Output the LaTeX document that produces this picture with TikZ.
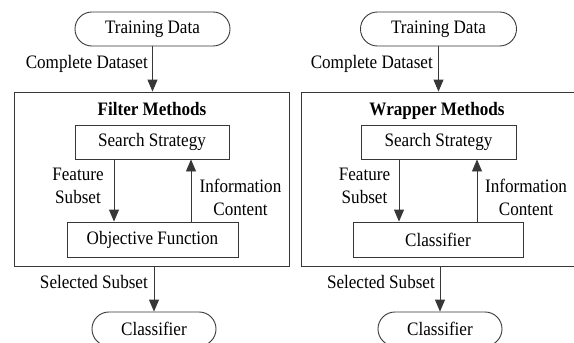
\documentclass[tikz,border=0pt]{standalone}
\usepackage{fontspec}
\setmainfont{Liberation Serif}[FakeStretch=0.9]
\usetikzlibrary{arrows.meta}
\definecolor{linec}{RGB}{55,55,55}
\newcommand{\diagfont}{\fontsize{19}{23}\selectfont}
\tikzset{
  txt/.style={font=\diagfont, inner sep=0pt, align=center},
  box/.style={draw=linec, line width=0.9pt, inner sep=0pt, minimum height=34pt,
              font=\diagfont},
  term/.style={box, rounded corners=16.9pt},
  frame/.style={draw=linec, line width=0.9pt, inner sep=0pt},
  arr/.style={draw=linec, line width=0.9pt, -{Triangle[width=10pt,length=12pt]}}
}
\begin{document}
\begin{tikzpicture}[x=1pt,y=-1pt]
\useasboundingbox (0,0) rectangle (574,343);
\clip (0,0) rectangle (574,343);

% ---------- filter methods ----------
\node[term, minimum width=155pt] (tdL) at (152.5,29) {Training Data};
\node[frame, minimum width=275pt, minimum height=174pt] (fL) at (151.5,179) {};
\node[txt, font=\diagfont\bfseries, anchor=base] (tL) at (152,115) {Filter Methods};
\node[box, minimum width=154pt] (ssL) at (152,142) {Search Strategy};
\node[box, minimum width=171pt, minimum height=35pt] (ofL) at (152.5,239.5) {Objective Function};
\node[term, minimum width=124pt] (clL) at (154,329) {Classifier};

\draw[arr] (tdL.south) -- (tdL.south |- fL.north);
\node[txt, anchor=base east] (cdL) at (148,68) {Complete Dataset};
\draw[arr] ([xshift=-38pt]ssL.south) -- ([xshift=-38pt]ssL.south |- ofL.north);
\draw[arr] ([xshift=39pt]ssL.south |- ofL.north) -- ([xshift=39pt]ssL.south);
\node[txt] (fsL) at (78,186) {Feature\\Subset};
\node[txt] (icL) at (240.5,197.5) {Information\\Content};
\draw[arr] (clL.north |- fL.south) -- (clL.north);
\node[txt, anchor=base east] (sbL) at (148,288) {Selected Subset};

% ---------- wrapper methods ----------
\node[term, minimum width=156pt] (tdR) at (438.5,29) {Training Data};
\node[frame, minimum width=276pt, minimum height=174pt] (fR) at (439,179) {};
\node[txt, font=\diagfont\bfseries, anchor=base] (tR) at (437,115) {Wrapper Methods};
\node[box, minimum width=155pt] (ssR) at (438.5,142) {Search Strategy};
\node[box, minimum width=170pt, minimum height=35pt] (cbR) at (438,239.5) {Classifier};
\node[term, minimum width=124pt] (clR) at (440,329) {Classifier};

\draw[arr] (tdR.south) -- (tdR.south |- fR.north);
\node[txt, anchor=base east] (cdR) at (433,68) {Complete Dataset};
\draw[arr] ([xshift=-39.5pt]ssR.south) -- ([xshift=-39.5pt]ssR.south |- cbR.north);
\draw[arr] ([xshift=38.5pt]ssR.south |- cbR.north) -- ([xshift=38.5pt]ssR.south);
\node[txt] (fsR) at (364.5,186) {Feature\\Subset};
\node[txt] (icR) at (526,197.5) {Information\\Content};
\draw[arr] (clR.north |- fR.south) -- (clR.north);
\node[txt, anchor=base east] (sbR) at (435,288) {Selected Subset};
\end{tikzpicture}
\end{document}
